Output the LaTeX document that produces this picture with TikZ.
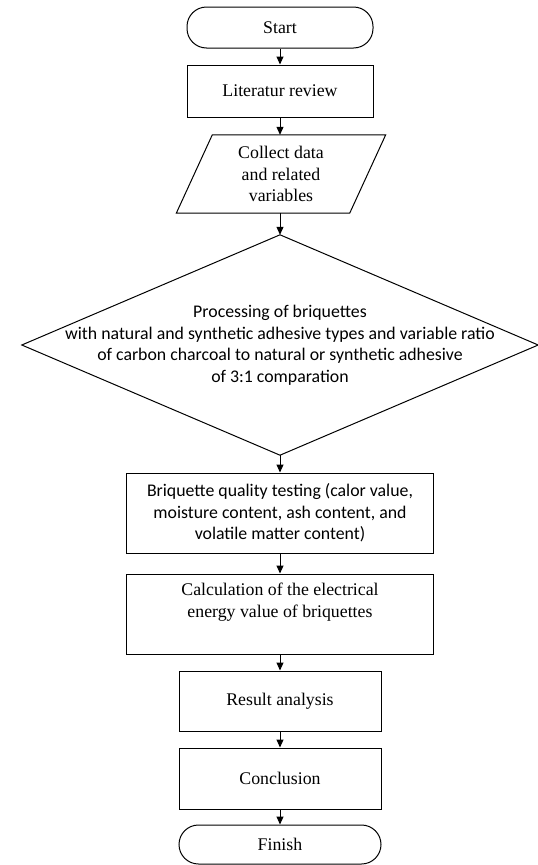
\documentclass[tikz,border=0pt]{standalone}
\usepackage{fontspec}
\setmainfont{Liberation Serif}
\newfontfamily\carlitofont{Carlito}
\usetikzlibrary{arrows.meta}
\begin{document}
\begin{tikzpicture}[x=1pt,y=-1pt,
  txt/.style={align=center, inner sep=0pt, font=\fontsize{17.8}{21.5}\selectfont},
  sanstxt/.style={align=center, inner sep=0pt, font=\carlitofont\fontsize{17.8}{21.5}\selectfont},
  box/.style={draw, line width=1pt},
  term/.style={box, rounded corners=19.5pt},
  outline/.style={draw, line width=1pt, line join=miter},
  arr/.style={line width=1pt, -{Triangle[width=7pt,length=8pt]}}]
\useasboundingbox (0,0) rectangle (538,865);
\fill[white] (0,0) rectangle (538,865);

\node[txt, term, minimum width=186pt, minimum height=41pt] (start) at (280,27.5) {Start};
\node[txt, box, minimum width=186pt, minimum height=52pt] (lit) at (280,91) {Literatur review};
\node[txt, minimum width=209pt, minimum height=78pt] (col) at (281,174) {Collect data\\and related\\variables};
\draw[outline] ([xshift=36pt]col.north west) -- (col.north east) -- ([xshift=-36pt]col.south east) -- (col.south west) -- cycle;
\node[sanstxt, minimum width=516pt, minimum height=220pt] (dia) at (280,345) {Processing of briquettes\\with natural and synthetic adhesive types and variable ratio\\of carbon charcoal to natural or synthetic adhesive\\of 3:1 comparation};
\draw[outline] (dia.north) -- (dia.east) -- (dia.south) -- (dia.west) -- cycle;
\node[sanstxt, box, minimum width=307pt, minimum height=80pt] (brq) at (280,513) {Briquette quality testing (calor value,\\moisture content, ash content, and\\volatile matter content)};
\node[txt, box, minimum width=307pt, minimum height=80pt] (calc) at (280,614) {Calculation of the electrical\\energy value of briquettes\\\strut};
\node[txt, box, minimum width=202pt, minimum height=60pt] (res) at (280,701) {Result analysis};
\node[txt, box, minimum width=202pt, minimum height=61pt] (con) at (280,778.5) {Conclusion};
\node[txt, term, minimum width=202pt, minimum height=39pt] (fin) at (280,844.5) {Finish};

\draw[arr] (start.south) -- (lit.north);
\draw[arr] (lit.south) -- (col.north -| lit.south);
\draw[arr] (col.south -| dia.north) -- (dia.north);
\draw[arr] (dia.south) -- (brq.north);
\draw[arr] (brq.south) -- (calc.north);
\draw[arr] (calc.south) -- (res.north);
\draw[arr] (res.south) -- (con.north);
\draw[arr] (con.south) -- (fin.north);
\end{tikzpicture}
\end{document}
